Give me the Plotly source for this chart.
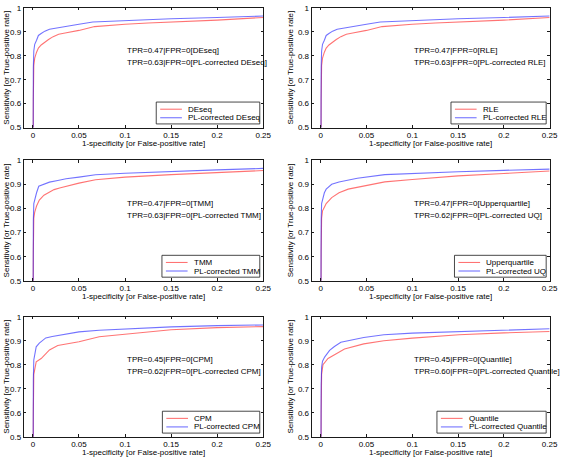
import plotly.graph_objects as go

# ---------------- data ----------------
methods = ["DEseq", "RLE", "TMM", "Upperquartile", "CPM", "Quantile"]
corrected_names = ["PL-corrected DEseq", "PL-corrected RLE", "PL-corrected TMM",
                   "PL-corrected UQ", "PL-corrected CPM", "PL-corrected Quantile"]
tpr_at_fpr0_orig = [0.47, 0.47, 0.47, 0.47, 0.45, 0.45]
tpr_at_fpr0_corr = [0.63, 0.63, 0.63, 0.62, 0.62, 0.60]

x_tick_vals = [0, 0.05, 0.1, 0.15, 0.2, 0.25]
x_tick_text = ["0", "0.05", "0.1", "0.15", "0.2", "0.25"]
y_tick_vals = [0.5, 0.6, 0.7, 0.8, 0.9, 1.0]
y_tick_text = ["0.5", "0.6", "0.7", "0.8", "0.9", "1"]

# DEseq
deseq_fpr = [0, 0, 0.0005, 0.001, 0.002, 0.004, 0.006, 0.009, 0.012, 0.017, 0.022, 0.028, 0.035, 0.05, 0.067, 0.08, 0.1, 0.125, 0.15, 0.2, 0.25]
deseq_tpr = [0, 0.47, 0.62, 0.76, 0.79, 0.815, 0.832, 0.845, 0.855, 0.868, 0.88, 0.89, 0.895, 0.906, 0.922, 0.927, 0.932, 0.937, 0.941, 0.949, 0.96]
pl_deseq_fpr = [0, 0, 0.0005, 0.001, 0.002, 0.004, 0.006, 0.009, 0.013, 0.018, 0.025, 0.035, 0.05, 0.065, 0.08, 0.1, 0.15, 0.2, 0.25]
pl_deseq_tpr = [0, 0.63, 0.75, 0.82, 0.848, 0.865, 0.885, 0.893, 0.903, 0.911, 0.915, 0.922, 0.932, 0.941, 0.944, 0.948, 0.955, 0.96, 0.966]

# RLE
rle_fpr = [0, 0, 0.0005, 0.001, 0.002, 0.004, 0.006, 0.009, 0.012, 0.017, 0.022, 0.028, 0.035, 0.05, 0.067, 0.08, 0.1, 0.125, 0.15, 0.2, 0.25]
rle_tpr = [0, 0.47, 0.62, 0.76, 0.79, 0.815, 0.832, 0.845, 0.855, 0.868, 0.88, 0.89, 0.895, 0.906, 0.922, 0.927, 0.932, 0.937, 0.941, 0.949, 0.96]
pl_rle_fpr = [0, 0, 0.0005, 0.001, 0.002, 0.004, 0.006, 0.009, 0.013, 0.018, 0.025, 0.035, 0.05, 0.065, 0.08, 0.1, 0.15, 0.2, 0.25]
pl_rle_tpr = [0, 0.63, 0.75, 0.82, 0.848, 0.865, 0.885, 0.893, 0.903, 0.911, 0.915, 0.922, 0.932, 0.941, 0.944, 0.948, 0.955, 0.96, 0.966]

# TMM
tmm_fpr = [0, 0, 0.0005, 0.001, 0.002, 0.004, 0.007, 0.012, 0.018, 0.023, 0.029, 0.04, 0.05, 0.068, 0.1, 0.15, 0.2, 0.25]
tmm_tpr = [0, 0.47, 0.62, 0.76, 0.785, 0.81, 0.835, 0.855, 0.869, 0.878, 0.885, 0.897, 0.905, 0.919, 0.93, 0.94, 0.95, 0.957]
pl_tmm_fpr = [0, 0, 0.0005, 0.001, 0.002, 0.004, 0.0064, 0.011, 0.018, 0.027, 0.036, 0.05, 0.068, 0.1, 0.15, 0.2, 0.25]
pl_tmm_tpr = [0, 0.63, 0.75, 0.82, 0.838, 0.865, 0.892, 0.9, 0.909, 0.916, 0.923, 0.93, 0.94, 0.946, 0.954, 0.96, 0.966]

# Upperquartile
uq_fpr = [0, 0, 0.0005, 0.001, 0.002, 0.004, 0.006, 0.012, 0.02, 0.03, 0.05, 0.07, 0.1, 0.15, 0.2, 0.25]
uq_tpr = [0, 0.47, 0.62, 0.76, 0.79, 0.805, 0.82, 0.845, 0.865, 0.88, 0.895, 0.91, 0.92, 0.935, 0.945, 0.955]
pl_uq_fpr = [0, 0, 0.0005, 0.001, 0.002, 0.004, 0.006, 0.012, 0.02, 0.04, 0.07, 0.1, 0.15, 0.2, 0.25]
pl_uq_tpr = [0, 0.62, 0.75, 0.82, 0.84, 0.865, 0.88, 0.9, 0.91, 0.925, 0.94, 0.945, 0.952, 0.958, 0.963]

# CPM
cpm_fpr = [0, 0, 0.0005, 0.001, 0.002, 0.0036, 0.009, 0.018, 0.027, 0.05, 0.072, 0.1, 0.15, 0.2, 0.25]
cpm_tpr = [0, 0.45, 0.6, 0.76, 0.785, 0.812, 0.826, 0.862, 0.88, 0.896, 0.917, 0.928, 0.946, 0.955, 0.959]
pl_cpm_fpr = [0, 0, 0.0005, 0.001, 0.002, 0.0036, 0.007, 0.014, 0.021, 0.05, 0.072, 0.1, 0.15, 0.2, 0.25]
pl_cpm_tpr = [0, 0.62, 0.74, 0.82, 0.849, 0.875, 0.89, 0.912, 0.918, 0.937, 0.944, 0.95, 0.958, 0.963, 0.966]

# Quantile
quant_fpr = [0, 0, 0.0005, 0.001, 0.0025, 0.008, 0.017, 0.026, 0.047, 0.069, 0.1, 0.151, 0.2, 0.25]
quant_tpr = [0, 0.45, 0.6, 0.76, 0.8, 0.826, 0.846, 0.866, 0.887, 0.9, 0.911, 0.925, 0.933, 0.939]
pl_quant_fpr = [0, 0, 0.0005, 0.001, 0.002, 0.0043, 0.0097, 0.015, 0.022, 0.047, 0.069, 0.1, 0.151, 0.2, 0.25]
pl_quant_tpr = [0, 0.60, 0.72, 0.79, 0.815, 0.832, 0.86, 0.876, 0.894, 0.914, 0.925, 0.932, 0.939, 0.945, 0.95]

orig_curves = [(deseq_fpr, deseq_tpr), (rle_fpr, rle_tpr), (tmm_fpr, tmm_tpr),
               (uq_fpr, uq_tpr), (cpm_fpr, cpm_tpr), (quant_fpr, quant_tpr)]
corr_curves = [(pl_deseq_fpr, pl_deseq_tpr), (pl_rle_fpr, pl_rle_tpr), (pl_tmm_fpr, pl_tmm_tpr),
               (pl_uq_fpr, pl_uq_tpr), (pl_cpm_fpr, pl_cpm_tpr), (pl_quant_fpr, pl_quant_tpr)]

# ---------------- style / layout ----------------
W, H = 567, 463
FONT = "Arial, Liberation Sans, sans-serif"
FS = 8
RED = "rgba(255,0,0,0.55)"
BLUE = "rgba(0,0,255,0.55)"
AX = "#1a1a1a"

col_px = [(24, 267), (316, 557.5)]
row_px = [(4, 126), (159.3, 282.3), (319, 441.3)]

ARIAL = {' ': 278, '-': 333, 'P': 667, 'L': 556, 'c': 500, 'o': 556, 'r': 333, 'e': 556,
         't': 278, 'd': 556, 'D': 722, 'E': 667, 's': 500, 'q': 556, 'R': 722, 'T': 611,
         'M': 833, 'U': 722, 'p': 556, 'u': 556, 'a': 556, 'i': 222, 'l': 222, 'Q': 778,
         'C': 722, 'n': 556}


def text_w(s, size=FS):
    return sum(ARIAL.get(ch, 556) for ch in s) * size / 1000.0


def px(x):
    return x / W


def py(y):
    return 1 - y / H


fig = go.Figure()
annotations = []
shapes = []

for i in range(6):
    r, c = divmod(i, 2)
    L, R = col_px[c]
    T, B = row_px[r]
    n = i + 1
    xa = "x" if n == 1 else f"x{n}"
    ya = "y" if n == 1 else f"y{n}"
    xkey = "xaxis" if n == 1 else f"xaxis{n}"
    ykey = "yaxis" if n == 1 else f"yaxis{n}"

    fo, to = orig_curves[i]
    fc, tc = corr_curves[i]
    fig.add_trace(go.Scatter(x=fo, y=to, mode="lines", name=methods[i],
                             line=dict(color=RED, width=1.1), xaxis=xa, yaxis=ya,
                             showlegend=False))
    fig.add_trace(go.Scatter(x=fc, y=tc, mode="lines", name=corrected_names[i],
                             line=dict(color=BLUE, width=1.1), xaxis=xa, yaxis=ya,
                             showlegend=False))

    common = dict(showline=True, linecolor=AX, linewidth=0.8, mirror="ticks",
                  ticks="inside", ticklen=2.5, tickwidth=0.8, tickcolor=AX,
                  showgrid=False, zeroline=False,
                  tickfont=dict(family=FONT, size=FS, color="#000"))
    fig.layout[xkey] = dict(domain=[px(L), px(R)], anchor=ya, range=[-0.01, 0.25],
                            tickvals=x_tick_vals, ticktext=x_tick_text, **common)
    fig.layout[ykey] = dict(domain=[py(B), py(T)], anchor=xa, range=[0.5, 1.0],
                            tickvals=y_tick_vals, ticktext=y_tick_text, **common)

    # axis titles
    annotations.append(dict(text="1-specificity [or False-positive rate]", xref="paper", yref="paper",
                            x=px((L + R) / 2), y=py(B + 16.5), showarrow=False,
                            xanchor="center", yanchor="middle",
                            font=dict(family=FONT, size=FS, color="#000")))
    annotations.append(dict(text="Sensitivity [or True-positive rate]", xref="paper", yref="paper",
                            x=px(7 if c == 0 else L - 21), y=py((T + B) / 2), showarrow=False,
                            textangle=-90, xanchor="center", yanchor="middle",
                            font=dict(family=FONT, size=FS, color="#000")))

    # TPR texts
    annotations.append(dict(text=f"TPR={tpr_at_fpr0_orig[i]:.2f}|FPR=0[{methods[i]}]",
                            xref=xa, yref=ya, x=0.1, y=0.82, showarrow=False,
                            xanchor="left", yanchor="middle",
                            font=dict(family=FONT, size=FS, color="#000")))
    annotations.append(dict(text=f"TPR={tpr_at_fpr0_corr[i]:.2f}|FPR=0[{corrected_names[i]}]",
                            xref=xa, yref=ya, x=0.1, y=0.77, showarrow=False,
                            xanchor="left", yanchor="middle",
                            font=dict(family=FONT, size=FS, color="#000")))

    # legend box
    tw = max(text_w(methods[i]), text_w(corrected_names[i]))
    box_r = R - 3.5
    text_x = box_r - 3 - tw
    box_l = text_x - 30
    box_b = B - 3.7
    box_t = B - 26
    shapes.append(dict(type="rect", xref="paper", yref="paper",
                       x0=px(box_l), x1=px(box_r), y0=py(box_b), y1=py(box_t),
                       line=dict(color=AX, width=0.8), fillcolor="white", layer="above"))
    for k, (nm, col) in enumerate([(methods[i], RED), (corrected_names[i], BLUE)]):
        yy = B - 18.7 + k * 8.7
        shapes.append(dict(type="line", xref="paper", yref="paper",
                           x0=px(box_l + 4), x1=px(box_l + 26), y0=py(yy), y1=py(yy),
                           line=dict(color=col, width=1.1), layer="above"))
        annotations.append(dict(text=nm, xref="paper", yref="paper", x=px(text_x), y=py(yy),
                                showarrow=False, xanchor="left", yanchor="middle",
                                font=dict(family=FONT, size=FS, color="#000")))

fig.update_layout(width=W, height=H, margin=dict(l=0, r=0, t=0, b=0),
                  paper_bgcolor="white", plot_bgcolor="white",
                  showlegend=False, annotations=annotations, shapes=shapes)

fig.write_html("out.html", config={"displayModeBar": False},
               post_script="document.body.style.margin='0';document.body.style.overflow='hidden';")
